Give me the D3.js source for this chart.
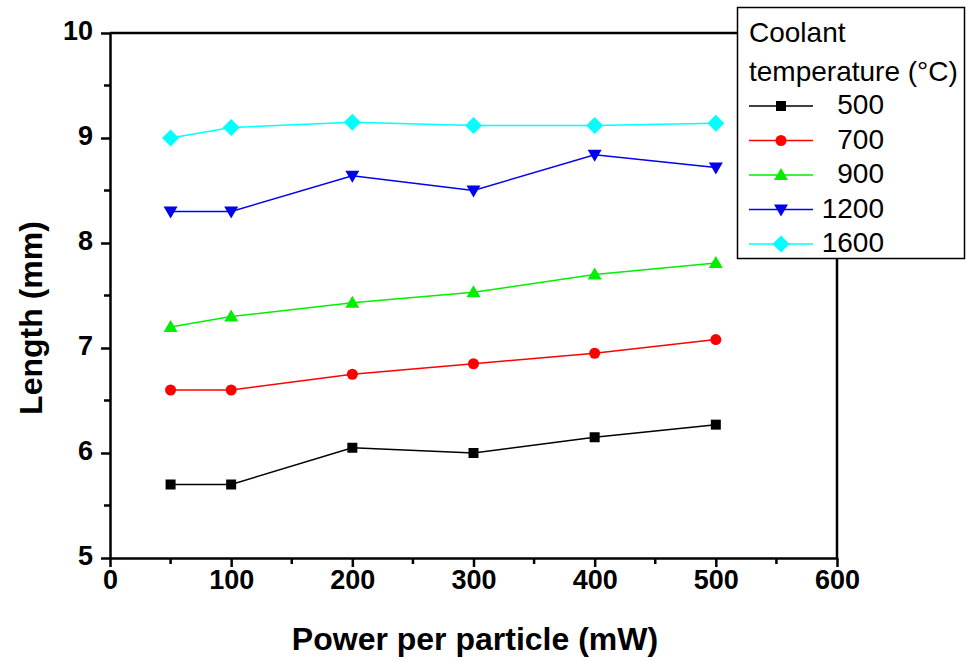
<!DOCTYPE html>
<html><head><meta charset="utf-8">
<script src="https://cdn.jsdelivr.net/npm/d3@7"></script>
<style>body{margin:0;background:#fff}svg{display:block}</style>
</head><body>
<svg id="c" width="966" height="662"></svg>
<script>
const powers = [50, 100, 200, 300, 400, 500];
const temps = ["500", "700", "900", "1200", "1600"];
const colors = ["#000000", "#ff0000", "#00ee00", "#0000ee", "#00ffff"];
const symbols = ["square", "circle", "triangle", "triangleDown", "diamond"];
const len500 = [5.70, 5.70, 6.05, 6.00, 6.15, 6.27];
const len700 = [6.60, 6.60, 6.75, 6.85, 6.95, 7.08];
const len900 = [7.20, 7.30, 7.43, 7.53, 7.70, 7.81];
const len1200 = [8.30, 8.30, 8.64, 8.50, 8.84, 8.72];
const len1600 = [9.00, 9.10, 9.15, 9.12, 9.12, 9.14];
const seriesVals = [len500, len700, len900, len1200, len1600];
const xTicks = [0, 100, 200, 300, 400, 500, 600];
const yTicks = [5, 6, 7, 8, 9, 10];

const svg = d3.select("#c");
const x = d3.scaleLinear().domain([0, 600]).range([110, 837]);
const y = d3.scaleLinear().domain([5, 10]).range([558, 33]);
const font = "'Liberation Sans', Arial, sans-serif";

function marker(g, type, cx, cy, col) {
  let p;
  if (type === "square") p = `M${cx-5},${cy-5}h10v10h-10z`;
  else if (type === "circle") { g.append("circle").attr("cx", cx).attr("cy", cy).attr("r", 5.5).attr("fill", col); return; }
  else if (type === "triangle") p = `M${cx},${cy-7}L${cx+7},${cy+5}L${cx-7},${cy+5}z`;
  else if (type === "triangleDown") p = `M${cx},${cy+7}L${cx+7},${cy-5}L${cx-7},${cy-5}z`;
  else p = `M${cx},${cy-8.5}L${cx+8.5},${cy}L${cx},${cy+8.5}L${cx-8.5},${cy}z`;
  g.append("path").attr("d", p).attr("fill", col);
}

// axes
const xAxis = d3.axisBottom(x).tickValues(xTicks).tickFormat(d3.format("d")).tickSize(9).tickSizeOuter(0).tickPadding(3);
const gx = svg.append("g").attr("transform", "translate(0,558)").call(xAxis);
const yAxis = d3.axisLeft(y).tickValues(yTicks).tickFormat(d3.format("d")).tickSize(9).tickSizeOuter(0).tickPadding(8);
const gy = svg.append("g").attr("transform", "translate(110,0)").call(yAxis);
[gx, gy].forEach(g => {
  g.select(".domain").attr("stroke", "#000").attr("stroke-width", 2.5);
  g.selectAll(".tick line").attr("stroke", "#000").attr("stroke-width", 2.5);
  g.selectAll(".tick text").attr("font-family", font).attr("font-weight", "bold").attr("font-size", 27).attr("fill", "#000");
});
gy.selectAll(".tick text").attr("dy", "0.25em");
// minor ticks
const xMinor = [50, 150, 250, 350, 450, 550];
svg.append("g").selectAll("line").data(xMinor).join("line")
  .attr("x1", d => x(d)).attr("x2", d => x(d)).attr("y1", 558).attr("y2", 564)
  .attr("stroke", "#000").attr("stroke-width", 2.5);
const yMinor = [5.5, 6.5, 7.5, 8.5, 9.5];
svg.append("g").selectAll("line").data(yMinor).join("line")
  .attr("x1", 104).attr("x2", 110).attr("y1", d => y(d)).attr("y2", d => y(d))
  .attr("stroke", "#000").attr("stroke-width", 2.5);
// top and right frame
svg.append("line").attr("x1", 110).attr("x2", 837).attr("y1", 33).attr("y2", 33).attr("stroke", "#000").attr("stroke-width", 2.5);
svg.append("line").attr("x1", 837).attr("x2", 837).attr("y1", 33).attr("y2", 558).attr("stroke", "#000").attr("stroke-width", 2.5);

// series
const line = d3.line().x(d => x(d[0])).y(d => y(d[1]));
seriesVals.forEach((vals, i) => {
  const pts = powers.map((p, j) => [p, vals[j]]);
  const g = svg.append("g");
  g.append("path").attr("d", line(pts)).attr("fill", "none").attr("stroke", colors[i]).attr("stroke-width", 1.5);
  pts.forEach(p => marker(g, symbols[i], x(p[0]), y(p[1]), colors[i]));
});

// axis titles
svg.append("text").attr("x", 475).attr("y", 650).attr("text-anchor", "middle")
  .attr("font-family", font).attr("font-weight", "bold").attr("font-size", 32).text("Power per particle (mW)");
svg.append("text").attr("transform", "translate(42,318) rotate(-90)").attr("text-anchor", "middle")
  .attr("font-family", font).attr("font-weight", "bold").attr("font-size", 32).text("Length (mm)");

// legend
const lg = svg.append("g");
lg.append("rect").attr("x", 737.5).attr("y", 7.5).attr("width", 227).attr("height", 251)
  .attr("fill", "#fff").attr("stroke", "#000").attr("stroke-width", 1.5);
lg.append("text").attr("x", 749).attr("y", 42).attr("font-family", font).attr("font-size", 28).text("Coolant");
lg.append("text").attr("x", 749).attr("y", 81).attr("font-family", font).attr("font-size", 28).text("temperature (°C)");
temps.forEach((t, i) => {
  const cy = 106 + i * 34.5;
  lg.append("line").attr("x1", 749).attr("x2", 813).attr("y1", cy).attr("y2", cy).attr("stroke", colors[i]).attr("stroke-width", 1.5);
  marker(lg, symbols[i], 781, cy, colors[i]);
  lg.append("text").attr("x", 884).attr("y", cy + 8).attr("text-anchor", "end")
    .attr("font-family", font).attr("font-size", 28).text(t);
});
</script>
</body></html>
